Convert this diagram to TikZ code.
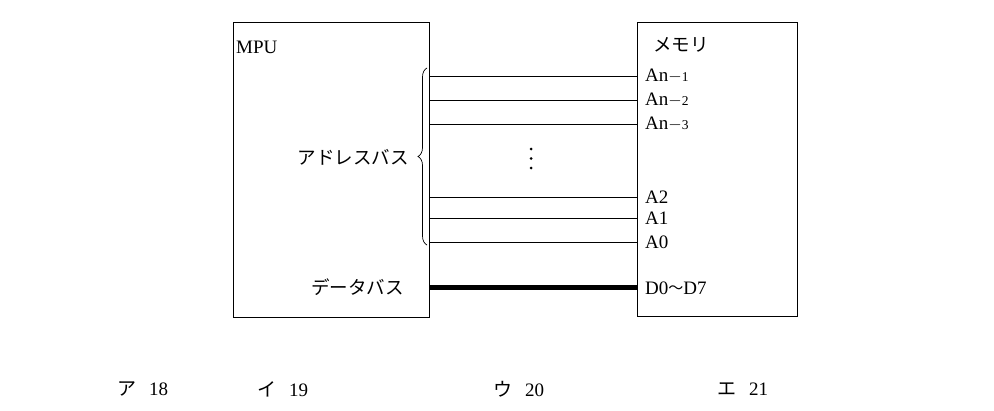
\documentclass[tikz,border=0pt]{standalone}
\usepackage{fontspec}
\setmainfont{Liberation Serif}
\newfontfamily\jp{Noto Sans CJK JP}
\usetikzlibrary{decorations.pathreplacing}
\begin{document}
\begin{tikzpicture}[x=1pt,y=-1pt,
  box/.style={draw,line width=0.9pt},
  bus/.style={line width=0.7pt},
  lbl/.style={inner sep=0pt,font=\fontsize{19}{19}\selectfont},
  jlbl/.style={inner sep=0pt,font=\jp\fontsize{18.5}{19}\selectfont},
  dot/.style={fill,circle,inner sep=0pt,minimum size=3pt}]
\useasboundingbox (0,0) rectangle (994,410);
\node[box,minimum width=196pt,minimum height=295pt,inner sep=0pt] (mpu) at (331,169.5) {};
\node[box,minimum width=160pt,minimum height=294pt,inner sep=0pt] (mem) at (717,169) {};
\node[lbl,anchor=west] (mputxt) at (236,47) {MPU};
\node[jlbl,anchor=west] (memtxt) at (653,45) {メモリ};
% address lines
\foreach \n/\y/\t in {a1/76/{An$-${\fontsize{13.5}{13.5}\selectfont 1}},a2/100/{An$-${\fontsize{13.5}{13.5}\selectfont 2}},a3/124/{An$-${\fontsize{13.5}{13.5}\selectfont 3}},b2/197/A2,b1/218/A1,b0/242/A0}{
  \coordinate (s\n) at (mpu.east |- 0,\y);
  \coordinate (e\n) at (mem.west |- 0,\y);
  \draw[bus] (s\n) -- (e\n);
  \node[lbl,anchor=west] (l\n) at (645,\y) {\t};
}
\coordinate (dtop) at (0,287.5);
\draw[line width=5pt] (mpu.east |- dtop) -- (mem.west |- dtop);
\node[lbl,anchor=west] (dlbl) at (645,288) {D0\raisebox{0.1ex}{\jp\fontsize{15}{15}\selectfont 〜}D7};
\node[jlbl,anchor=east] (dbus) at (404,287) {データバス};
% brace
\coordinate (bt) at (427,68);
\coordinate (bb) at (427,245);
\draw[line width=0.7pt,decorate,decoration={brace,amplitude=9pt,aspect=0.5}] (bb) -- (bt);
\node[jlbl,anchor=east] (abus) at (409,157) {アドレスバス};
% dots
\node[dot] (d1) at (531,149) {};
\node[dot] (d2) at (531,158.5) {};
\node[dot] (d3) at (531,168) {};
% choices
\node[lbl,anchor=west] (c1) at (117,389) {{\jp ア}\hspace{13pt}18};
\node[lbl,anchor=west] (c2) at (257,389) {{\jp イ}\hspace{13pt}19};
\node[lbl,anchor=west] (c3) at (493,389) {{\jp ウ}\hspace{13pt}20};
\node[lbl,anchor=west] (c4) at (717,389) {{\jp エ}\hspace{13pt}21};
\end{tikzpicture}
\end{document}
